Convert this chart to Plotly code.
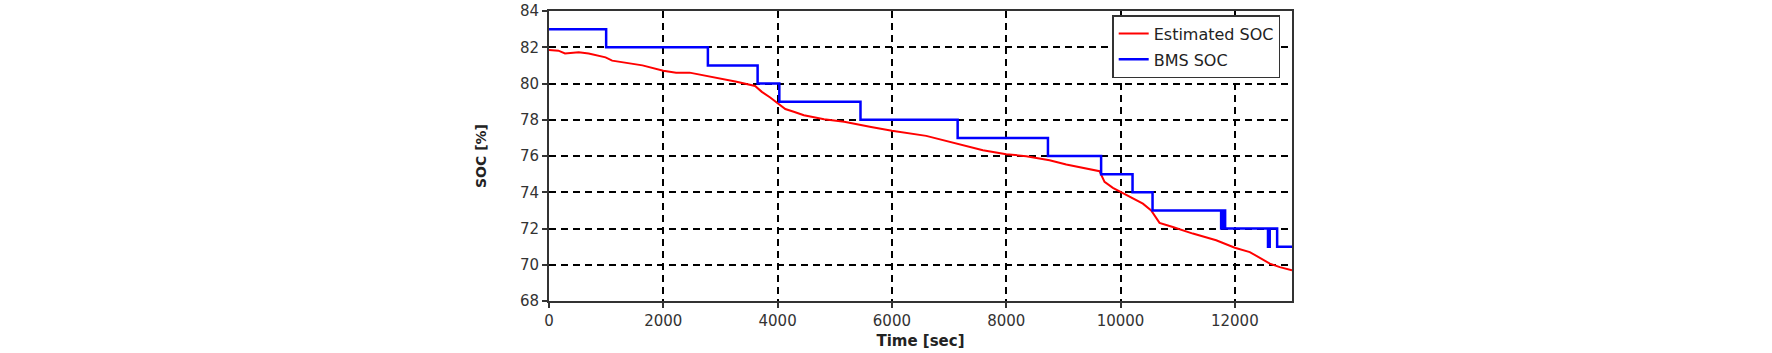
import plotly.graph_objects as go

# Estimated SOC (red)
est_t = [0, 165, 280, 520, 694, 990, 1105, 1340, 1635, 2000, 2224, 2460, 2694, 3047, 3282,
         3606, 3724, 3870, 4030, 4135, 4282, 4460, 4812, 5165, 5635, 6000, 6600, 7184, 7592,
         8000, 8350, 8758, 9050, 9633, 9720, 9866, 10000, 10160, 10391, 10536, 10682, 10915,
         11265, 11673, 12000, 12262, 12612, 12787, 13000]
est_v = [81.85, 81.81, 81.66, 81.72, 81.66, 81.44, 81.26, 81.16, 81.0, 80.7, 80.6, 80.6, 80.46,
         80.22, 80.1, 79.86, 79.54, 79.23, 78.86, 78.59, 78.44, 78.25, 78.03, 77.89, 77.6, 77.39,
         77.11, 76.65, 76.32, 76.1, 75.99, 75.77, 75.53, 75.16, 74.57, 74.24, 74.02, 73.74, 73.37,
         73.0, 72.31, 72.08, 71.72, 71.35, 70.94, 70.7, 70.06, 69.87, 69.69]

# BMS SOC (blue, stepwise)
bms_t = [0, 1000, 2780, 3650, 4030, 5450, 7150, 8730, 9660, 10210, 10560, 11760, 11785, 11800,
         11820, 11830, 12580, 12610, 12740, 13000]
bms_v = [83, 82, 81, 80, 79, 78, 77, 76, 75, 74, 73, 72, 73, 72, 73, 72, 71, 72, 71, 71]

x_ticks = [0, 2000, 4000, 6000, 8000, 10000, 12000]
y_ticks = [68, 70, 72, 74, 76, 78, 80, 82, 84]

fig = go.Figure()
fig.add_trace(go.Scatter(x=est_t, y=est_v, mode="lines", name="Estimated SOC",
                         legendgroup="a",
                         line=dict(color="#ff0000", width=2)))
fig.add_trace(go.Scatter(x=bms_t, y=bms_v, mode="lines", name="BMS SOC",
                         legendgroup="b",
                         line=dict(color="#0000ff", width=2.5, shape="hv")))

axis_common = dict(showline=True, linecolor="#333333", linewidth=2, mirror=True,
                   ticks="outside", ticklen=5, tickcolor="#333333", tickwidth=1.5,
                   showgrid=True, gridcolor="black", gridwidth=1.5, griddash="7px,5px",
                   zeroline=False, automargin=False,
                   tickfont=dict(family="DejaVu Sans", size=15, color="#333333"))

fig.update_xaxes(range=[0, 13000], tickvals=x_ticks, ticktext=[str(v) for v in x_ticks],
                 title=dict(text="<b>Time [sec]</b>", standoff=6,
                            font=dict(family="DejaVu Sans", size=15, color="#222222")),
                 **axis_common)
fig.update_yaxes(range=[68, 84], tickvals=y_ticks, ticktext=[str(v) for v in y_ticks],
                 title=dict(text="<b>SOC [%]</b>", standoff=30,
                            font=dict(family="DejaVu Sans", size=14, color="#222222")),
                 **axis_common)

fig.update_layout(
    width=1772, height=353,
    margin=dict(l=549, r=480, t=11, b=52),
    paper_bgcolor="white", plot_bgcolor="white",
    showlegend=True,
    legend=dict(x=0.758, y=0.986, xanchor="left", yanchor="top",
                bgcolor="white", bordercolor="#333333", borderwidth=1.5,
                font=dict(family="DejaVu Sans", size=16, color="#222222"),
                tracegroupgap=2),
)

fig.write_html("out.html", config={"displayModeBar": False},
               post_script="document.body.style.margin='0';")
